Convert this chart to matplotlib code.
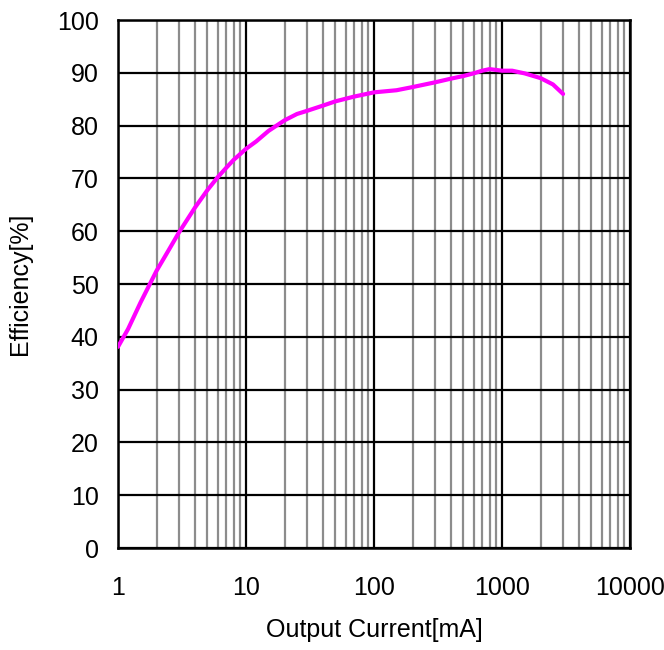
import matplotlib
matplotlib.use('Agg')
import matplotlib.pyplot as plt
import matplotlib.ticker as pltick

# Efficiency curve
current_ma = [1, 1.2, 1.5, 2, 2.5, 3, 4, 5, 6, 7, 8, 10, 12, 15, 20, 25, 30, 40, 50,
              70, 100, 150, 200, 300, 400, 500, 600, 700, 800, 1000, 1200, 1500,
              2000, 2500, 3000]
efficiency = [38.1, 41.5, 46.5, 52.5, 56.5, 59.8, 64.5, 67.8, 70.2, 72.0, 73.5, 75.6,
              77.0, 79.0, 81.0, 82.2, 82.8, 83.8, 84.6, 85.5, 86.3, 86.7, 87.3, 88.2,
              88.9, 89.4, 89.9, 90.4, 90.7, 90.4, 90.4, 89.9, 89.0, 87.8, 86.0]

x_ticks = [1, 10, 100, 1000, 10000]
x_labels = ['1', '10', '100', '1000', '10000']
y_ticks = list(range(0, 101, 10))

plt.rcParams['font.family'] = ['Liberation Sans', 'DejaVu Sans']

fig = plt.figure(figsize=(6.64, 6.5), dpi=100)
ax = fig.add_axes([0.1777, 0.1569, 0.7711, 0.8123])

ax.plot(current_ma, efficiency, color='#FF00FF', linewidth=3.0, zorder=3,
        solid_capstyle='round', solid_joinstyle='round')

ax.set_xscale('log')
ax.set_xlim(1, 10000)
ax.set_ylim(0, 100)
ax.set_xticks(x_ticks)
ax.set_xticklabels(x_labels)
ax.set_yticks(y_ticks)
ax.xaxis.set_minor_locator(pltick.LogLocator(base=10, subs=range(2, 10), numticks=20))
ax.xaxis.set_minor_formatter(pltick.NullFormatter())

ax.grid(True, which='minor', axis='x', color='#8c8c8c', linewidth=1.6)
ax.grid(True, which='major', color='black', linewidth=1.6)
ax.tick_params(which='both', length=0, labelsize=18)
ax.tick_params(axis='x', pad=20)
ax.tick_params(axis='y', pad=14)
for s in ax.spines.values():
    s.set_color('black')
    s.set_linewidth(1.8)

ax.set_xlabel('Output Current[mA]', fontsize=18, labelpad=13)
ax.set_ylabel('Efficiency[%]', fontsize=18, labelpad=18)

fig.savefig('out.png', dpi=100)
